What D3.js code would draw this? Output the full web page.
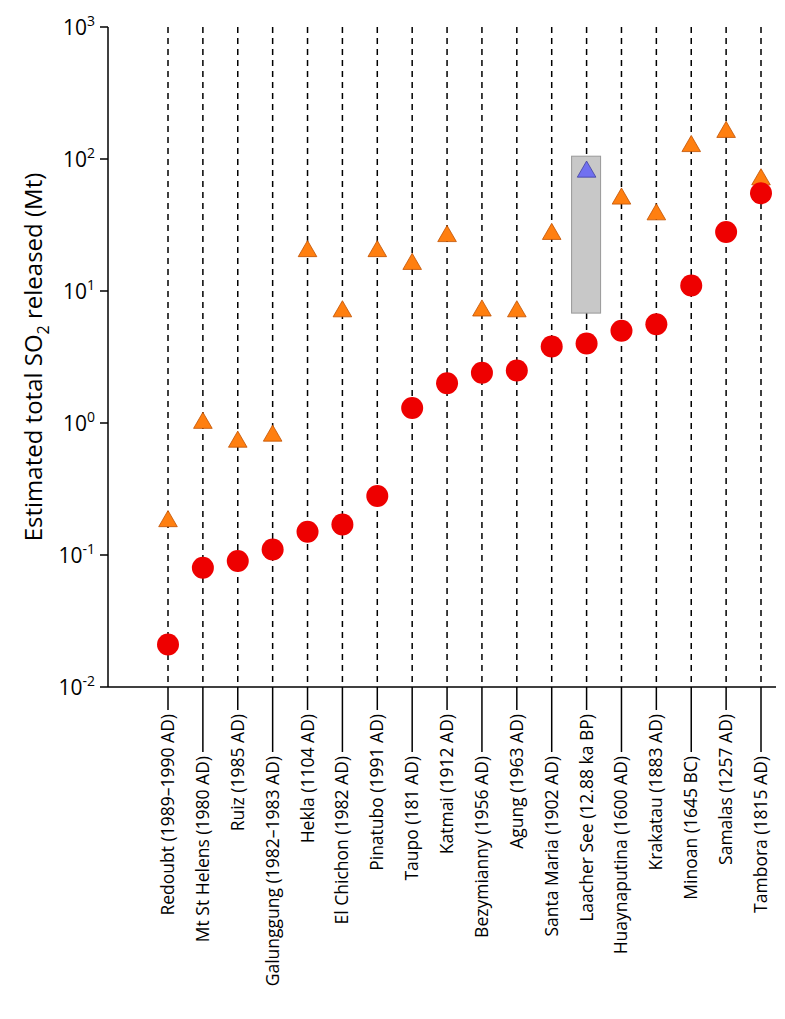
<!DOCTYPE html>
<html><head><meta charset="utf-8">
<script src="https://cdn.jsdelivr.net/npm/d3@7"></script>
<style>body{margin:0;background:#fff}text{font-family:"Open Sans",sans-serif}</style>
</head><body><svg width="785" height="1019"></svg>
<script>
var volcanoes = ["Redoubt (1989\u20131990 AD)","Mt St Helens (1980 AD)","Ruiz (1985 AD)","Galunggung (1982\u20131983 AD)","Hekla (1104 AD)","El Chichon (1982 AD)","Pinatubo (1991 AD)","Taupo (181 AD)","Katmai (1912 AD)","Bezymianny (1956 AD)","Agung (1963 AD)","Santa Maria (1902 AD)","Laacher See (12.88 ka BP)","Huaynaputina (1600 AD)","Krakatau (1883 AD)","Minoan (1645 BC)","Samalas (1257 AD)","Tambora (1815 AD)"];
var circleValues = [0.021,0.08,0.09,0.11,0.15,0.17,0.28,1.3,2.0,2.4,2.5,3.8,4.0,5.0,5.6,11,28,55];
var triangleValues = [0.18,1.0,0.72,0.8,20,7,20,16,26,7.1,7,27,80,50,38,125,160,70];
var laacherRange = [6.8,105];
var yTicks = [-2,-1,0,1,2,3];

var svg = d3.select("svg");
var x = d3.scalePoint().domain(volcanoes).range([168,761]);
var y = d3.scaleLog().domain([0.01,1000]).range([687,27]);

svg.selectAll(".grid").data(volcanoes).enter().append("line")
  .attr("x1",d=>x(d)).attr("x2",d=>x(d)).attr("y1",27).attr("y2",687)
  .attr("stroke","#000").attr("stroke-width",1.5).attr("stroke-dasharray","6,5");

// staggered ticks below the axis
function tickEnd(i){ return i % 2 ? 752 : 710; }
svg.selectAll(".xt").data(volcanoes).enter().append("line")
  .attr("x1",d=>x(d)).attr("x2",d=>x(d)).attr("y1",687).attr("y2",(d,i)=>tickEnd(i))
  .attr("stroke","#000").attr("stroke-width",1.5);

// axes
svg.append("line").attr("x1",108).attr("x2",108).attr("y1",27).attr("y2",687).attr("stroke","#000").attr("stroke-width",1.5);
svg.append("line").attr("x1",108).attr("x2",776).attr("y1",687).attr("y2",687).attr("stroke","#000").attr("stroke-width",1.5);
yTicks.forEach(function(e){
  var t = svg.append("text").attr("x",95).attr("y",y(Math.pow(10,e))+8).attr("text-anchor","end").attr("font-size",21);
  t.append("tspan").text("10");
  t.append("tspan").attr("dy",-9).attr("font-size",14).text(e);
  svg.append("line").attr("x1",100).attr("x2",108).attr("y1",y(Math.pow(10,e))).attr("y2",y(Math.pow(10,e))).attr("stroke","#000").attr("stroke-width",1.5);
});

var lab = svg.append("text").attr("transform","translate(42,357) rotate(-90)").attr("text-anchor","middle").attr("font-size",24);
lab.append("tspan").text("Estimated total SO");
lab.append("tspan").attr("dy",7).attr("font-size",16).text("2");
lab.append("tspan").attr("dy",-7).text(" released (Mt)");

svg.selectAll(".xl").data(volcanoes).enter().append("text")
  .attr("transform",(d,i)=>"translate("+(x(d)+6)+","+(tickEnd(i)+4)+") rotate(-90)")
  .attr("text-anchor","end").attr("font-size",17.5).text(d=>d);

// Laacher See range
var lx = x(volcanoes[12]);
svg.append("rect").attr("x",lx-15).attr("width",29).attr("y",y(laacherRange[1]))
  .attr("height",y(laacherRange[0])-y(laacherRange[1])).attr("fill","#c8c8c8").attr("stroke","#999");

var tri = d3.symbol().type(d3.symbolTriangle).size(150);
svg.selectAll(".tri").data(triangleValues).enter().append("path")
  .attr("d",tri).attr("transform",(d,i)=>"translate("+x(volcanoes[i])+","+y(d)+")")
  .attr("fill",(d,i)=>i===12?"#7070f0":"#ff7f10").attr("stroke",(d,i)=>i===12?"#4040a0":"#c05000").attr("stroke-width",0.8);

svg.selectAll(".dot").data(circleValues).enter().append("circle")
  .attr("cx",(d,i)=>x(volcanoes[i])).attr("cy",d=>y(d)).attr("r",11)
  .attr("fill","#ee0000");
</script></body></html>
